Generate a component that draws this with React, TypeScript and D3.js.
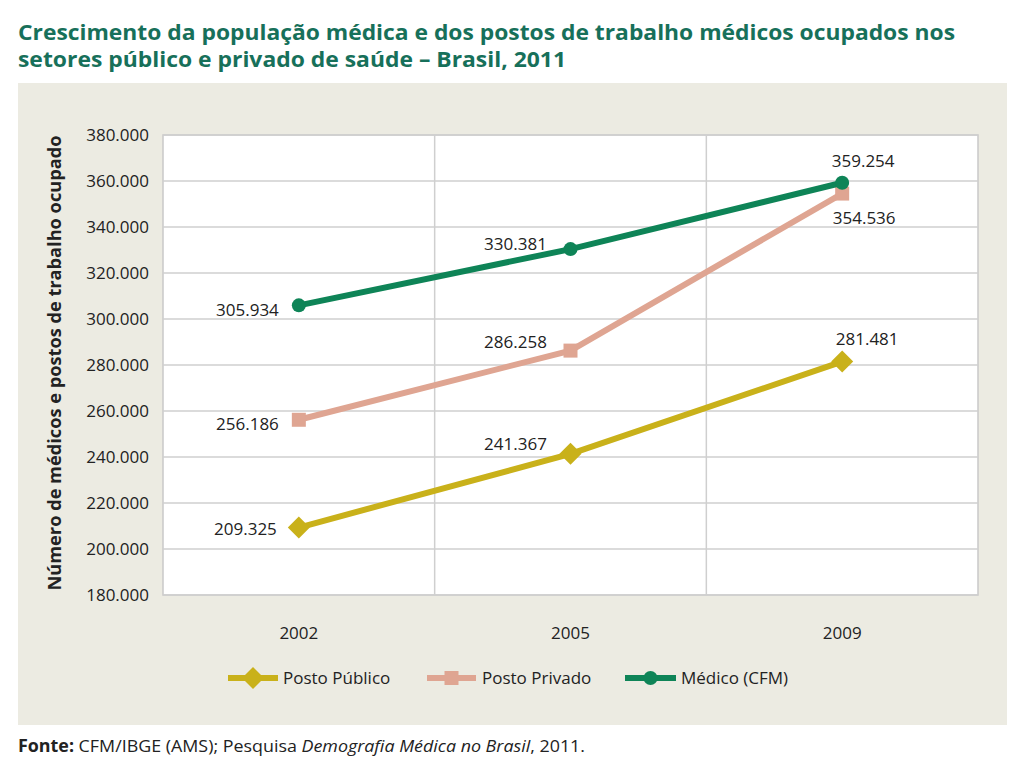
import React from "react";
import * as d3 from "d3";

const years = ["2002", "2005", "2009"];
const postoPublico = [209325, 241367, 281481];
const postoPrivado = [256186, 286258, 354536];
const medicoCFM = [305934, 330381, 359254];
const yTicks = [180000, 200000, 220000, 240000, 260000, 280000, 300000, 320000, 340000, 360000, 380000];
const seriesNames = ["Posto Público", "Posto Privado", "Médico (CFM)"];

const fmt = (v: number) => {
  const s = String(v);
  return s.slice(0, s.length - 3) + "." + s.slice(s.length - 3);
};

export default function App() {
  const W = 1024, H = 772;
  const plot = { x0: 163, x1: 978, y0: 135, y1: 595 };
  const x = d3.scaleBand<string>().domain(years).range([plot.x0, plot.x1]).padding(0);
  const y = d3.scaleLinear().domain([180000, 380000]).range([plot.y1, plot.y0]);
  const cx = (yr: string) => (x(yr) as number) + x.bandwidth() / 2;
  const line = d3.line<[string, number]>().x((d) => cx(d[0])).y((d) => y(d[1]));

  const colors = { pub: "#c9b11a", priv: "#dfa592", med: "#0e8457" };
  const font = "'Open Sans', sans-serif";
  const txt = "#222";
  const fs = 17;

  const series = [
    { key: "pub", values: postoPublico, color: colors.pub, marker: "diamond" },
    { key: "priv", values: postoPrivado, color: colors.priv, marker: "square" },
    { key: "med", values: medicoCFM, color: colors.med, marker: "circle" },
  ];

  // label placement: [dx, dy, anchor]
  const labelPos: Record<string, [number, number, string][]> = {
    pub: [[-22, 7, "end"], [-55, -4, "middle"], [25, -17, "middle"]],
    priv: [[-20, 10, "end"], [-55, -3, "middle"], [22, 30, "middle"]],
    med: [[-20, 11, "end"], [-55, 1, "middle"], [21, -16, "middle"]],
  };

  const marker = (type: string, px: number, py: number, color: string, k: string) => {
    if (type === "diamond") {
      const s = 11;
      return <path key={k} d={`M${px},${py - s}L${px + s},${py}L${px},${py + s}L${px - s},${py}Z`} fill={color} />;
    }
    if (type === "square") {
      return <rect key={k} x={px - 7} y={py - 7} width={14} height={14} fill={color} />;
    }
    return <circle key={k} cx={px} cy={py} r={7} fill={color} />;
  };

  const legendItems = [
    { name: seriesNames[0], color: colors.pub, marker: "diamond", x0: 228, x1: 278, tx: 283 },
    { name: seriesNames[1], color: colors.priv, marker: "square", x0: 427, x1: 476, tx: 482 },
    { name: seriesNames[2], color: colors.med, marker: "circle", x0: 625, x1: 676, tx: 681 },
  ];

  return (
    <svg width={W} height={H} style={{ position: "absolute", left: 0, top: 0, background: "#fff" }}>
      <text x={18} y={40} fontFamily={font} fontWeight="bold" fontSize={21} fill="#17705a" textLength={937} lengthAdjust="spacingAndGlyphs">
        Crescimento da população médica e dos postos de trabalho médicos ocupados nos
      </text>
      <text x={18} y={67} fontFamily={font} fontWeight="bold" fontSize={21} fill="#17705a" textLength={548} lengthAdjust="spacingAndGlyphs">
        setores público e privado de saúde – Brasil, 2011
      </text>

      <rect x={18} y={83} width={989} height={642} fill="#ecebe2" />
      <rect x={plot.x0} y={plot.y0} width={plot.x1 - plot.x0} height={plot.y1 - plot.y0} fill="#fff" stroke="#c9c9c9" strokeWidth={1.5} />

      {yTicks.map((t) => (
        <g key={t}>
          <line x1={plot.x0} x2={plot.x1} y1={y(t)} y2={y(t)} stroke="#cfcfcf" strokeWidth={1.5} />
          <text x={149} y={y(t) + 6} textAnchor="end" fontFamily={font} fontSize={fs} fill={txt}>{fmt(t)}</text>
        </g>
      ))}
      {years.slice(1).map((yr) => (
        <line key={yr} x1={x(yr) as number} x2={x(yr) as number} y1={plot.y0} y2={plot.y1} stroke="#cfcfcf" strokeWidth={1.5} />
      ))}
      {years.map((yr) => (
        <text key={yr} x={cx(yr)} y={639} textAnchor="middle" fontFamily={font} fontSize={fs} fill={txt}>{yr}</text>
      ))}

      <text transform={`translate(61,${(plot.y0 + plot.y1) / 2 - 2}) rotate(-90)`} textAnchor="middle" fontFamily={font} fontWeight="bold" fontSize={17} fill={txt} textLength={455} lengthAdjust="spacingAndGlyphs">
        Número de médicos e postos de trabalho ocupado
      </text>

      {series.map((s) => (
        <g key={s.key}>
          <path d={line(years.map((yr, i) => [yr, s.values[i]] as [string, number])) as string} fill="none" stroke={s.color} strokeWidth={6} />
          {years.map((yr, i) => marker(s.marker, cx(yr), y(s.values[i]), s.color, s.key + yr))}
        </g>
      ))}
      {series.map((s) =>
        years.map((yr, i) => {
          const [dx, dy, anchor] = labelPos[s.key][i];
          return (
            <text key={s.key + "l" + yr} x={cx(yr) + dx} y={y(s.values[i]) + dy} textAnchor={anchor as any} fontFamily={font} fontSize={fs} fill={txt}>
              {fmt(s.values[i])}
            </text>
          );
        })
      )}

      {legendItems.map((l) => (
        <g key={l.name}>
          <line x1={l.x0} x2={l.x1} y1={678} y2={678} stroke={l.color} strokeWidth={6} />
          {marker(l.marker, (l.x0 + l.x1) / 2, 678, l.color, "m")}
          <text x={l.tx} y={684} fontFamily={font} fontSize={fs} fill={txt}>{l.name}</text>
        </g>
      ))}

      <text x={18} y={752} fontFamily={font} fontSize={fs} fill={txt} textLength={567} lengthAdjust="spacingAndGlyphs">
        <tspan fontWeight="bold">Fonte:</tspan> CFM/IBGE (AMS); Pesquisa <tspan fontStyle="italic">Demografia Médica no Brasil</tspan>, 2011.
      </text>
    </svg>
  );
}
